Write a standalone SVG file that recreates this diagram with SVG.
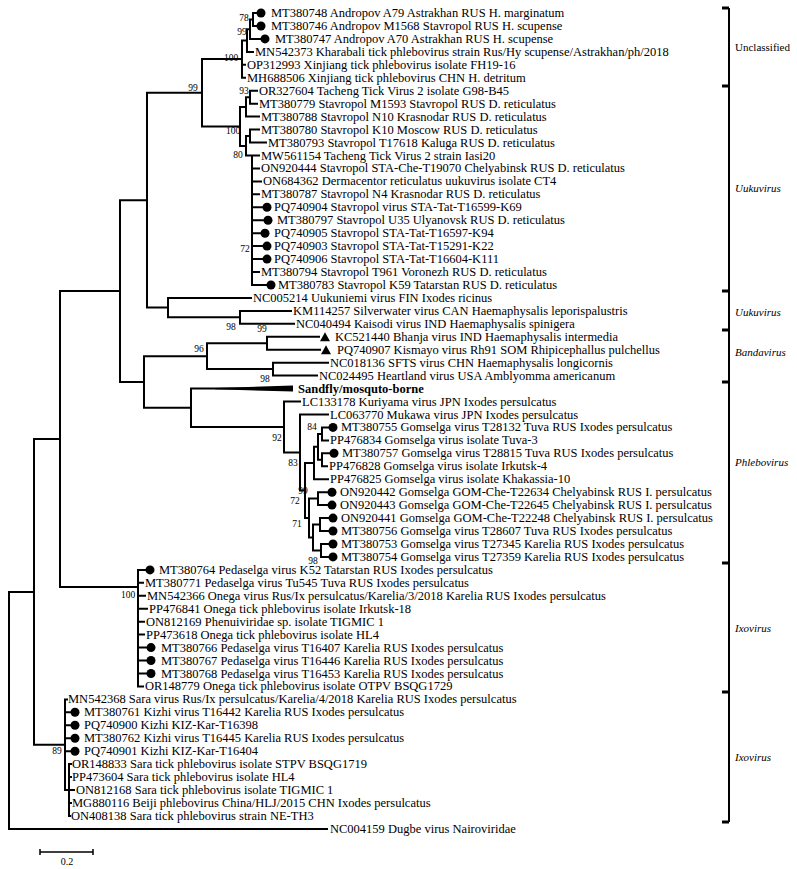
<svg xmlns="http://www.w3.org/2000/svg" width="797" height="869" viewBox="0 0 797 869">
<style>
.t{font-family:"Liberation Serif","Times New Roman",serif;font-size:12.5px;fill:#000}
.b{font-weight:bold}
.bs{font-family:"Liberation Serif","Times New Roman",serif;font-size:9.5px;fill:#000;text-anchor:middle}
.cl{font-family:"Liberation Serif","Times New Roman",serif;font-size:11px;fill:#000}
.i{font-style:italic}
.ln{fill:none;stroke:#000;stroke-width:2;stroke-linecap:square}
.dot{fill:#000}
.tk{fill:#000}
</style>
<rect width="797" height="869" fill="#fff"/>
<g id="connectors">
<path class="ln" d="M9,591.9V828.9M9,591.9H34M9,828.9H327
M34,439V744.7M34,439H60M34,744.7H65
M60,291.1V587M60,291.1H120M60,587H138
M120,200.2V382M120,200.2H147M120,382H144
M147,92.8V307.6M147,92.8H202M147,307.6H168
M202,59.1V126.5M202,59.1H242M202,126.5H240
M242,40.5V77.8M242,40.5H247M242,64.8H245M242,77.8H245
M247,29.2V51.9M247,29.2H250M247,51.9H253
M250,19.5V38.9M250,19.5H253M250,38.9H260
M253,13V26M253,13H256M253,26H256
M240,106.9V146M240,106.9H246M240,146H246
M246,97.2V116.6M246,97.2H250M246,116.6H259
M250,90.7V103.7M250,90.7H257M250,103.7H257
M246,136V155.5M246,136H250M246,155.5H252
M250,129.6V142.5M250,129.6H259M250,142.5H266
M252,155.5V285M252,155.5H259M252,168.4H259M252,181.4H261M252,194.3H259M252,207.3H262M252,220.2H263M252,233.2H260M252,246.1H262M252,259.1H262M252,272H259M252,285H266
M168,297.9V317.3M168,297.9H251M168,317.3H240
M240,310.9V323.8M240,310.9H291M240,323.8H294
M144,356.2V407.8M144,356.2H207M144,407.8H191
M207,343.2V369.1M207,343.2H267M207,369.1H273
M267,336.8V349.7M267,336.8H319M267,349.7H320
M273,362.7V375.6M273,362.7H328M273,375.6H317
M191,388.6V427M191,427H284M191,388.6H250
M284,401.5V452.5M284,401.5H300M284,452.5H300
M300,414.5V490.5M300,414.5H328M300,490.5H305
M305,463V518M305,463H314M305,518H309
M314,446.8V479.2M314,446.8H318M314,479.2H328
M318,433.9V459.8M318,433.9H322M318,459.8H322
M322,427.4V440.4M322,427.4H328M322,440.4H328
M322,453.3V466.3M322,453.3H329M322,466.3H327
M309,498.6V537.5M309,498.6H318M309,537.5H313
M318,492.2V505.1M318,492.2H327M318,505.1H327
M313,524.5V550.4M313,524.5H320M313,550.4H321
M320,518.1V531M320,518.1H328M320,531H328
M321,544V556.9M321,544H328M321,556.9H328
M138,569.9V686.4M138,569.9H145M138,582.8H143M138,595.8H145M138,608.7H147M138,621.7H144M138,634.6H144M138,647.6H146M138,660.5H146M138,673.5H146M138,686.4H143
M65,699.4V790M65,699.4H67M65,712.3H70M65,725.3H70M65,738.2H70M65,751.2H70M65,790H69
M69,764.1V815.9M69,764.1H71M69,777.1H71M69,790H74M69,803H71M69,815.9H70"/>
<polygon points="215,387.9 293,385.6 293,391.6 215,389.3" fill="#000"/>
</g>
<g id="support-labels">
<g id="node-I"><text class="bs" x="244" y="21">78</text></g>
<g id="node-H"><text class="bs" x="242" y="35">99</text></g>
<g id="node-G"><text class="bs" x="231" y="61">100</text></g>
<g id="node-E"><text class="bs" x="193" y="91">99</text></g>
<g id="node-X1a"><text class="bs" x="244" y="94">93</text></g>
<g id="node-X"><text class="bs" x="233" y="134">100</text></g>
<g id="node-Y"><text class="bs" x="238" y="158">80</text></g>
<g id="node-Y2"><text class="bs" x="245" y="252">72</text></g>
<g id="node-K"><text class="bs" x="231" y="330">98</text></g>
<g id="node-M"><text class="bs" x="262" y="332">99</text></g>
<g id="node-L"><text class="bs" x="199" y="352">96</text></g>
<g id="node-N"><text class="bs" x="265" y="382">98</text></g>
<g id="node-P"><text class="bs" x="277" y="441">92</text></g>
<g id="node-Q"><text class="bs" x="293" y="466">83</text></g>
<g id="node-V"><text class="bs" x="312" y="430">84</text></g>
<g id="node-T"><text class="bs" x="303" y="494">99</text></g>
<g id="node-W"><text class="bs" x="295" y="504">72</text></g>
<g id="node-W23"><text class="bs" x="297" y="527">71</text></g>
<g id="node-W3"><text class="bs" x="313" y="564">98</text></g>
<g id="node-Z"><text class="bs" x="128" y="598">100</text></g>
<g id="node-Iz"><text class="bs" x="57" y="754">89</text></g>
</g>
<g id="leaves">
<g id="leaf-MT380748"><circle class="dot" cx="261" cy="13" r="4.5"/><text class="t" x="271" y="17">MT380748 Andropov A79 Astrakhan RUS H. marginatum</text></g>
<g id="leaf-MT380746"><circle class="dot" cx="261" cy="26" r="4.5"/><text class="t" x="271" y="30">MT380746 Andropov M1568 Stavropol RUS H. scupense</text></g>
<g id="leaf-MT380747"><circle class="dot" cx="265" cy="38.9" r="4.5"/><text class="t" x="275" y="42.9">MT380747 Andropov A70 Astrakhan RUS H. scupense</text></g>
<g id="leaf-MN542373"><text class="t" x="255" y="55.9">MN542373 Kharabali tick phlebovirus strain Rus/Hy scupense/Astrakhan/ph/2018</text></g>
<g id="leaf-OP312993"><text class="t" x="247" y="68.8">OP312993 Xinjiang tick phlebovirus isolate FH19-16</text></g>
<g id="leaf-MH688506"><text class="t" x="247" y="81.8">MH688506 Xinjiang tick phlebovirus CHN H. detritum</text></g>
<g id="leaf-OR327604"><text class="t" x="259" y="94.7">OR327604 Tacheng Tick Virus 2 isolate G98-B45</text></g>
<g id="leaf-MT380779"><text class="t" x="259" y="107.7">MT380779 Stavropol M1593 Stavropol RUS D. reticulatus</text></g>
<g id="leaf-MT380788"><text class="t" x="261" y="120.6">MT380788 Stavropol N10 Krasnodar RUS D. reticulatus</text></g>
<g id="leaf-MT380780"><text class="t" x="261" y="133.6">MT380780 Stavropol K10 Moscow RUS D. reticulatus</text></g>
<g id="leaf-MT380793"><text class="t" x="268" y="146.5">MT380793 Stavropol T17618 Kaluga RUS D. reticulatus</text></g>
<g id="leaf-MW561154"><text class="t" x="261" y="159.5">MW561154 Tacheng Tick Virus 2 strain Iasi20</text></g>
<g id="leaf-ON920444"><text class="t" x="261" y="172.4">ON920444 Stavropol STA-Che-T19070 Chelyabinsk RUS D. reticulatus</text></g>
<g id="leaf-ON684362"><text class="t" x="263" y="185.4">ON684362 Dermacentor reticulatus uukuvirus isolate CT4</text></g>
<g id="leaf-MT380787"><text class="t" x="261" y="198.3">MT380787 Stavropol N4 Krasnodar RUS D. reticulatus</text></g>
<g id="leaf-PQ740904"><circle class="dot" cx="267" cy="207.3" r="4.5"/><text class="t" x="274" y="211.3">PQ740904 Stavropol virus STA-Tat-T16599-K69</text></g>
<g id="leaf-MT380797"><circle class="dot" cx="268" cy="220.2" r="4.5"/><text class="t" x="277" y="224.2">MT380797 Stavropol U35 Ulyanovsk RUS D. reticulatus</text></g>
<g id="leaf-PQ740905"><circle class="dot" cx="265" cy="233.2" r="4.5"/><text class="t" x="274" y="237.2">PQ740905 Stavropol STA-Tat-T16597-K94</text></g>
<g id="leaf-PQ740903"><circle class="dot" cx="267" cy="246.1" r="4.5"/><text class="t" x="274" y="250.1">PQ740903 Stavropol STA-Tat-T15291-K22</text></g>
<g id="leaf-PQ740906"><circle class="dot" cx="267" cy="259.1" r="4.5"/><text class="t" x="274" y="263.1">PQ740906 Stavropol STA-Tat-T16604-K111</text></g>
<g id="leaf-MT380794"><text class="t" x="261" y="276">MT380794 Stavropol T961 Voronezh RUS D. reticulatus</text></g>
<g id="leaf-MT380783"><circle class="dot" cx="271" cy="285" r="4.5"/><text class="t" x="278" y="289">MT380783 Stavropol K59 Tatarstan RUS D. reticulatus</text></g>
<g id="leaf-NC005214"><text class="t" x="253" y="301.9">NC005214 Uukuniemi virus FIN Ixodes ricinus</text></g>
<g id="leaf-KM114257"><text class="t" x="293" y="314.9">KM114257 Silverwater virus CAN Haemaphysalis leporispalustris</text></g>
<g id="leaf-NC040494"><text class="t" x="296" y="327.8">NC040494 Kaisodi virus IND Haemaphysalis spinigera</text></g>
<g id="leaf-KC521440"><polygon points="320,341.3 330,341.3 325,332.3" fill="#000"/><text class="t" x="335" y="340.8">KC521440 Bhanja virus IND Haemaphysalis intermedia</text></g>
<g id="leaf-PQ740907"><polygon points="321,354.2 331,354.2 326,345.2" fill="#000"/><text class="t" x="337" y="353.7">PQ740907 Kismayo virus Rh91 SOM Rhipicephallus pulchellus</text></g>
<g id="leaf-NC018136"><text class="t" x="330" y="366.7">NC018136 SFTS virus CHN Haemaphysalis longicornis</text></g>
<g id="leaf-NC024495"><text class="t" x="319" y="379.6">NC024495 Heartland virus USA Amblyomma americanum</text></g>
<g id="leaf-Sandfly"><text class="t b" x="298" y="392.6">Sandfly/mosquto-borne</text></g>
<g id="leaf-LC133178"><text class="t" x="302" y="405.5">LC133178 Kuriyama virus JPN Ixodes persulcatus</text></g>
<g id="leaf-LC063770"><text class="t" x="330" y="418.5">LC063770 Mukawa virus JPN Ixodes persulcatus</text></g>
<g id="leaf-MT380755"><circle class="dot" cx="333" cy="427.4" r="4.5"/><text class="t" x="341" y="431.4">MT380755 Gomselga virus T28132 Tuva RUS Ixodes persulcatus</text></g>
<g id="leaf-PP476834"><text class="t" x="330" y="444.4">PP476834 Gomselga virus isolate Tuva-3</text></g>
<g id="leaf-MT380757"><circle class="dot" cx="334" cy="453.3" r="4.5"/><text class="t" x="342" y="457.3">MT380757 Gomselga virus T28815 Tuva RUS Ixodes persulcatus</text></g>
<g id="leaf-PP476828"><text class="t" x="329" y="470.3">PP476828 Gomselga virus isolate Irkutsk-4</text></g>
<g id="leaf-PP476825"><text class="t" x="330" y="483.2">PP476825 Gomselga virus isolate Khakassia-10</text></g>
<g id="leaf-ON920442"><circle class="dot" cx="332" cy="492.2" r="4.5"/><text class="t" x="340" y="496.2">ON920442 Gomselga GOM-Che-T22634 Chelyabinsk RUS I. persulcatus</text></g>
<g id="leaf-ON920443"><circle class="dot" cx="332" cy="505.1" r="4.5"/><text class="t" x="340" y="509.1">ON920443 Gomselga GOM-Che-T22645 Chelyabinsk RUS I. persulcatus</text></g>
<g id="leaf-ON920441"><circle class="dot" cx="333" cy="518.1" r="4.5"/><text class="t" x="341" y="522.1">ON920441 Gomselga GOM-Che-T22248 Chelyabinsk RUS I. persulcatus</text></g>
<g id="leaf-MT380756"><circle class="dot" cx="333" cy="531" r="4.5"/><text class="t" x="341" y="535">MT380756 Gomselga virus T28607 Tuva RUS Ixodes persulcatus</text></g>
<g id="leaf-MT380753"><circle class="dot" cx="333" cy="544" r="4.5"/><text class="t" x="341" y="548">MT380753 Gomselga virus T27345 Karelia RUS Ixodes persulcatus</text></g>
<g id="leaf-MT380754"><circle class="dot" cx="333" cy="556.9" r="4.5"/><text class="t" x="341" y="560.9">MT380754 Gomselga virus T27359 Karelia RUS Ixodes persulcatus</text></g>
<g id="leaf-MT380764"><circle class="dot" cx="150" cy="569.9" r="4.5"/><text class="t" x="159" y="573.9">MT380764 Pedaselga virus K52 Tatarstan RUS Ixodes persulcatus</text></g>
<g id="leaf-MT380771"><text class="t" x="145" y="586.8">MT380771 Pedaselga virus Tu545 Tuva RUS Ixodes persulcatus</text></g>
<g id="leaf-MN542366"><text class="t" x="147" y="599.8">MN542366 Onega virus Rus/Ix persulcatus/Karelia/3/2018 Karelia RUS Ixodes persulcatus</text></g>
<g id="leaf-PP476841"><text class="t" x="149" y="612.7">PP476841 Onega tick phlebovirus isolate Irkutsk-18</text></g>
<g id="leaf-ON812169"><text class="t" x="146" y="625.7">ON812169 Phenuiviridae sp. isolate TIGMIC 1</text></g>
<g id="leaf-PP473618"><text class="t" x="146" y="638.6">PP473618 Onega tick phlebovirus isolate HL4</text></g>
<g id="leaf-MT380766"><circle class="dot" cx="151" cy="647.6" r="4.5"/><text class="t" x="161" y="651.6">MT380766 Pedaselga virus T16407 Karelia RUS Ixodes persulcatus</text></g>
<g id="leaf-MT380767"><circle class="dot" cx="151" cy="660.5" r="4.5"/><text class="t" x="161" y="664.5">MT380767 Pedaselga virus T16446 Karelia RUS Ixodes persulcatus</text></g>
<g id="leaf-MT380768"><circle class="dot" cx="151" cy="673.5" r="4.5"/><text class="t" x="161" y="677.5">MT380768 Pedaselga virus T16453 Karelia RUS Ixodes persulcatus</text></g>
<g id="leaf-OR148779"><text class="t" x="145" y="690.4">OR148779 Onega tick phlebovirus isolate OTPV BSQG1729</text></g>
<g id="leaf-MN542368"><text class="t" x="68" y="703.4">MN542368 Sara virus Rus/Ix persulcatus/Karelia/4/2018 Karelia RUS Ixodes persulcatus</text></g>
<g id="leaf-MT380761"><circle class="dot" cx="75" cy="712.3" r="4.5"/><text class="t" x="84" y="716.3">MT380761 Kizhi virus T16442 Karelia RUS Ixodes persulcatus</text></g>
<g id="leaf-PQ740900"><circle class="dot" cx="75" cy="725.3" r="4.5"/><text class="t" x="84" y="729.3">PQ740900 Kizhi KIZ-Kar-T16398</text></g>
<g id="leaf-MT380762"><circle class="dot" cx="75" cy="738.2" r="4.5"/><text class="t" x="84" y="742.2">MT380762 Kizhi virus T16445 Karelia RUS Ixodes persulcatus</text></g>
<g id="leaf-PQ740901"><circle class="dot" cx="75" cy="751.2" r="4.5"/><text class="t" x="84" y="755.2">PQ740901 Kizhi KIZ-Kar-T16404</text></g>
<g id="leaf-OR148833"><text class="t" x="72" y="768.1">OR148833 Sara tick phlebovirus isolate STPV BSQG1719</text></g>
<g id="leaf-PP473604"><text class="t" x="72" y="781.1">PP473604 Sara tick phlebovirus isolate HL4</text></g>
<g id="leaf-ON812168"><text class="t" x="76" y="794">ON812168 Sara tick phlebovirus isolate TIGMIC 1</text></g>
<g id="leaf-MG880116"><text class="t" x="72" y="807">MG880116 Beiji phlebovirus China/HLJ/2015 CHN Ixodes persulcatus</text></g>
<g id="leaf-ON408138"><text class="t" x="71" y="819.9">ON408138 Sara tick phlebovirus strain NE-TH3</text></g>
<g id="leaf-NC004159"><text class="t" x="330" y="832.9">NC004159 Dugbe virus Nairoviridae</text></g>
</g>
<g id="clade-brackets">
<path d="M729,8V822" stroke="#000" stroke-width="2" fill="none"/>
<rect class="tk" x="722" y="6.5" width="7" height="3"/>
<rect class="tk" x="722" y="84.5" width="7" height="3"/>
<rect class="tk" x="722" y="289.5" width="7" height="3"/>
<rect class="tk" x="722" y="328.5" width="7" height="3"/>
<rect class="tk" x="722" y="380.5" width="7" height="3"/>
<rect class="tk" x="722" y="561.5" width="7" height="3"/>
<rect class="tk" x="722" y="690.5" width="7" height="3"/>
<rect class="tk" x="722" y="820.5" width="7" height="3"/>
<g id="clade-unclassified"><text class="cl" x="735" y="51">Unclassified</text></g>
<g id="clade-uukuvirus-1"><text class="cl i" x="735" y="192">Uukuvirus</text></g>
<g id="clade-uukuvirus-2"><text class="cl i" x="735" y="316">Uukuvirus</text></g>
<g id="clade-bandavirus"><text class="cl i" x="735" y="356">Bandavirus</text></g>
<g id="clade-phlebovirus"><text class="cl i" x="735" y="466">Phlebovirus</text></g>
<g id="clade-ixovirus-1"><text class="cl i" x="735" y="632">Ixovirus</text></g>
<g id="clade-ixovirus-2"><text class="cl i" x="735" y="761">Ixovirus</text></g>
</g>
<g id="scale-bar">
<path d="M40,852H93M40,849V855M93,849V855" stroke="#000" stroke-width="1.5" fill="none"/>
<text class="bs" x="67" y="865" style="font-size:10px">0.2</text>
</g>
</svg>
